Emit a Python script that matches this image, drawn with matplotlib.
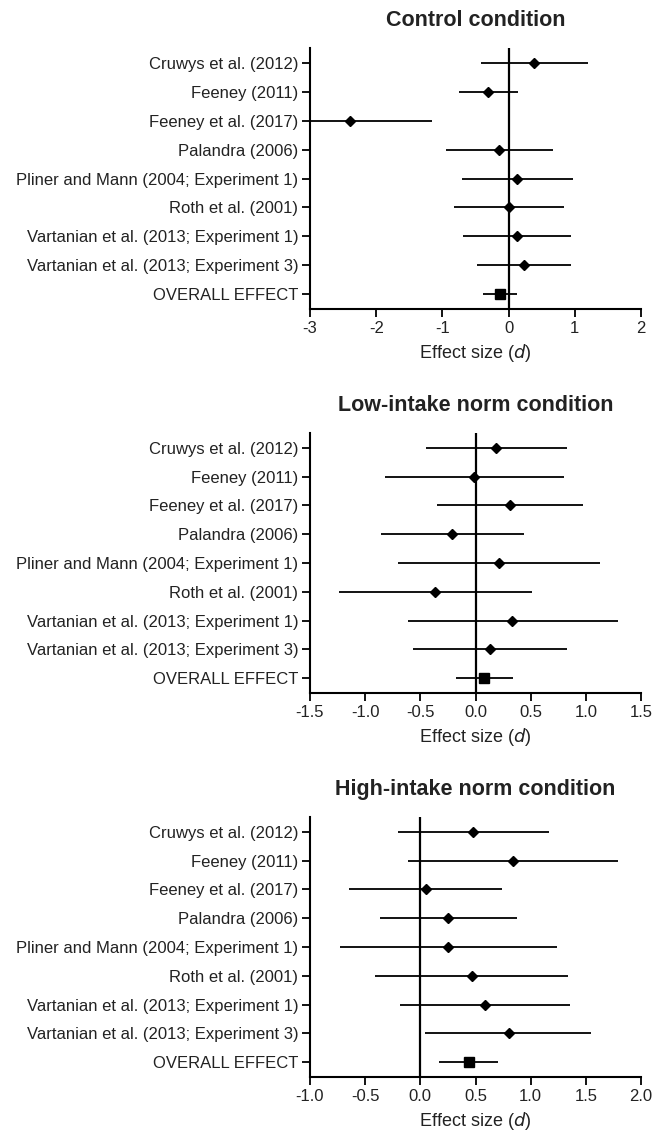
import matplotlib
matplotlib.use("Agg")
import matplotlib.pyplot as plt

plt.rcParams['font.family'] = ['Liberation Sans', 'DejaVu Sans']

# Study labels (top to bottom)
studies = [
    'Cruwys et al. (2012)',
    'Feeney (2011)',
    'Feeney et al. (2017)',
    'Palandra (2006)',
    'Pliner and Mann (2004; Experiment 1)',
    'Roth et al. (2001)',
    'Vartanian et al. (2013; Experiment 1)',
    'Vartanian et al. (2013; Experiment 3)',
    'OVERALL EFFECT',
]

# Control condition: effect sizes and 95% CI
control_d = [0.39, -0.31, -2.39, -0.14, 0.13, 0.01, 0.12, 0.23, -0.13]
control_lo = [-0.42, -0.75, -3.63, -0.94, -0.71, -0.82, -0.69, -0.48, -0.39]
control_hi = [1.20, 0.14, -1.15, 0.67, 0.97, 0.83, 0.94, 0.94, 0.12]

# Low-intake norm condition
low_d = [0.19, -0.01, 0.31, -0.21, 0.21, -0.365, 0.335, 0.13, 0.08]
low_lo = [-0.45, -0.82, -0.35, -0.86, -0.70, -1.24, -0.61, -0.57, -0.18]
low_hi = [0.83, 0.80, 0.97, 0.44, 1.13, 0.51, 1.29, 0.83, 0.34]

# High-intake norm condition
high_d = [0.48, 0.84, 0.05, 0.255, 0.255, 0.465, 0.59, 0.80, 0.44]
high_lo = [-0.20, -0.11, -0.645, -0.37, -0.73, -0.41, -0.18, 0.04, 0.17]
high_hi = [1.165, 1.79, 0.74, 0.88, 1.24, 1.34, 1.36, 1.55, 0.70]

panels = [
    ('Control condition', control_d, control_lo, control_hi,
     (-3, 2), [-3, -2, -1, 0, 1, 2], ['-3', '-2', '-1', '0', '1', '2']),
    ('Low-intake norm condition', low_d, low_lo, low_hi,
     (-1.5, 1.5), [-1.5, -1.0, -0.5, 0.0, 0.5, 1.0, 1.5],
     ['-1.5', '-1.0', '-0.5', '0.0', '0.5', '1.0', '1.5']),
    ('High-intake norm condition', high_d, high_lo, high_hi,
     (-1.0, 2.0), [-1.0, -0.5, 0.0, 0.5, 1.0, 1.5, 2.0],
     ['-1.0', '-0.5', '0.0', '0.5', '1.0', '1.5', '2.0']),
]

# axes boxes in pixels (left, top, right, bottom)
W, H = 657, 1133
boxes = [(310, 48, 641, 309), (310, 433, 641, 693), (310, 817, 641, 1077)]

fig = plt.figure(figsize=(W / 100, H / 100), dpi=100)
text_color = '#222222'

for (title, d, lo, hi, xlim, ticks, ticklabels), (x0, y0, x1, y1) in zip(panels, boxes):
    ax = fig.add_axes([x0 / W, 1 - y1 / H, (x1 - x0) / W, (y1 - y0) / H])
    n = len(studies)
    ypos = list(range(n - 1, -1, -1))

    # zero reference line
    ax.axvline(0, color='black', lw=1.6, zorder=1)

    for i in range(n):
        ax.plot([lo[i], hi[i]], [ypos[i], ypos[i]], color='black', lw=1.3,
                solid_capstyle='butt', zorder=2)
        if i == n - 1:
            ax.plot(d[i], ypos[i], marker='s', color='black', ms=7, zorder=3)
        else:
            ax.plot(d[i], ypos[i], marker='D', color='black', ms=5, zorder=3)

    ax.set_xlim(*xlim)
    ax.set_ylim(-0.52, n - 0.48)
    ax.set_xticks(ticks)
    ax.set_xticklabels(ticklabels)
    ax.set_yticks(ypos)
    ax.set_yticklabels(studies)

    for side in ['top', 'right']:
        ax.spines[side].set_visible(False)
    for side in ['left', 'bottom']:
        ax.spines[side].set_linewidth(1.5)
        ax.spines[side].set_color('black')

    ax.tick_params(axis='both', direction='out', length=5.5, width=1.3,
                   colors='black', labelcolor=text_color)
    ax.tick_params(axis='y', pad=3, labelsize=12)
    ax.tick_params(axis='x', pad=3, labelsize=12)

    ax.set_xlabel('Effect size ($\\it{d}$)', fontsize=13, color=text_color, labelpad=4.5)
    ax.set_title(title, fontsize=15.5, fontweight='bold', color=text_color, pad=16)

fig.savefig('out.png', dpi=100)
